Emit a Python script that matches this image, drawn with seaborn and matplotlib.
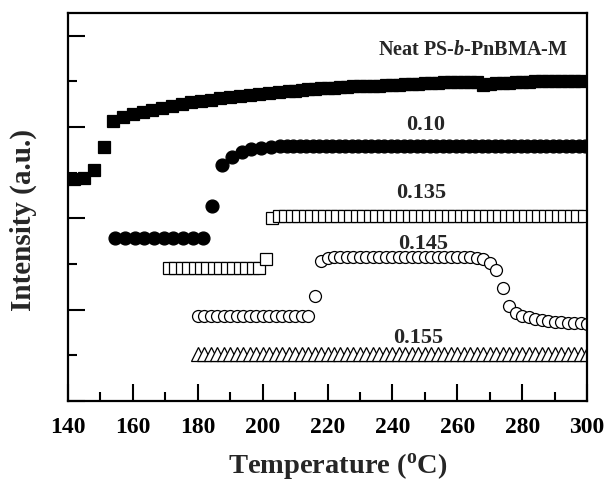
import matplotlib
matplotlib.use('Agg')
import matplotlib.pyplot as plt
from matplotlib.ticker import MultipleLocator, NullFormatter
import seaborn as sns

# --- data (temperature in C, intensity in a.u.) ---
neat_T = [142, 145, 148, 151, 154, 157, 160, 163, 166, 169, 172, 175, 178, 181,
          184, 187, 190, 193, 196, 199, 202, 205, 208,
          210, 212, 214, 216, 218, 220, 222, 224, 226, 228, 230, 232, 234, 236,
          238, 240, 242, 244, 246, 248, 250, 252, 254, 256, 258, 260, 262, 264,
          266, 268, 270, 272, 274, 276, 278, 280, 282, 284, 286, 288, 290, 292,
          294, 296, 298]
neat_I = [4.87, 4.89, 5.07, 5.57, 6.14, 6.23, 6.28, 6.34, 6.38, 6.42, 6.46, 6.50,
          6.54, 6.57, 6.60, 6.63, 6.66, 6.69, 6.71, 6.73, 6.75, 6.77, 6.79,
          6.80, 6.82, 6.83, 6.84, 6.85, 6.86, 6.86, 6.87, 6.88, 6.89, 6.89, 6.90,
          6.91, 6.91, 6.92, 6.93, 6.93, 6.94, 6.95, 6.95, 6.96, 6.96, 6.97, 6.98,
          6.98, 6.99, 6.99, 6.99, 6.99, 6.92, 6.94, 6.96, 6.97, 6.97, 6.98, 6.99,
          6.99, 7.00, 7.00, 7.00, 7.01, 7.01, 7.01, 7.02, 7.02]

c010_T = [154.5, 157.5, 160.5, 163.5, 166.5, 169.5, 172.5, 175.5, 178.5, 181.5,
          184.5, 187.5, 190.5, 193.5, 196.5, 199.5, 202.5, 205.5,
          207.5, 209.5, 211.5, 213.5, 215.5, 217.5, 219.5, 221.5, 223.5, 225.5,
          227.5, 229.5, 231.5, 233.5, 235.5, 237.5, 239.5, 241.5, 243.5, 245.5,
          247.5, 249.5, 251.5, 253.5, 255.5, 257.5, 259.5, 261.5, 263.5, 265.5,
          267.5, 269.5, 271.5, 273.5, 275.5, 277.5, 279.5, 281.5, 283.5, 285.5,
          287.5, 289.5, 291.5, 293.5, 295.5, 297.5, 299.5]
c010_I = [3.57, 3.57, 3.57, 3.57, 3.57, 3.57, 3.57, 3.57, 3.57, 3.57,
          4.27, 5.17, 5.34, 5.45, 5.52, 5.55, 5.57, 5.58,
          5.58, 5.58, 5.58, 5.58, 5.58, 5.58, 5.58, 5.58, 5.58, 5.58,
          5.58, 5.58, 5.58, 5.58, 5.58, 5.58, 5.58, 5.58, 5.58, 5.58,
          5.58, 5.58, 5.58, 5.58, 5.58, 5.58, 5.58, 5.58, 5.58, 5.58,
          5.58, 5.58, 5.58, 5.58, 5.58, 5.58, 5.58, 5.58, 5.58, 5.58,
          5.58, 5.58, 5.58, 5.58, 5.58, 5.58, 5.58]

c0135_T = [171, 173, 175, 177, 179, 181, 183, 185, 187, 189, 191, 193, 195, 197,
           199, 201, 203, 205, 207, 209, 211, 213, 215, 217, 219, 221, 223, 225,
           227, 229, 231, 233, 235, 237, 239, 241, 243, 245, 247, 249, 251, 253,
           255, 257, 259, 261, 263, 265, 267, 269, 271, 273, 275, 277, 279, 281,
           283, 285, 287, 289, 291, 293, 295, 297, 299]
c0135_I = [2.92, 2.92, 2.92, 2.92, 2.92, 2.92, 2.92, 2.92, 2.92, 2.92, 2.92, 2.92,
           2.92, 2.92, 2.92, 3.11, 4.02, 4.06, 4.06, 4.06, 4.06, 4.06, 4.06, 4.06,
           4.06, 4.06, 4.06, 4.06, 4.06, 4.06, 4.06, 4.06, 4.06, 4.06, 4.06, 4.06,
           4.06, 4.06, 4.06, 4.06, 4.06, 4.06, 4.06, 4.06, 4.06, 4.06, 4.06, 4.06,
           4.06, 4.06, 4.06, 4.06, 4.06, 4.06, 4.06, 4.06, 4.06, 4.06, 4.06, 4.06,
           4.06, 4.06, 4.06, 4.06, 4.06]

c0145_T = [180, 182, 184, 186, 188, 190, 192, 194, 196, 198, 200, 202, 204, 206,
           208, 210, 212, 214, 216, 218, 220, 222, 224, 226, 228, 230, 232, 234,
           236, 238, 240, 242, 244, 246, 248, 250, 252, 254, 256, 258, 260, 262,
           264, 266, 268, 270, 272, 274, 276, 278, 280, 282, 284, 286, 288, 290,
           292, 294, 296, 298, 300]
c0145_I = [1.87, 1.87, 1.87, 1.87, 1.87, 1.87, 1.87, 1.87, 1.87, 1.87, 1.87, 1.87,
           1.87, 1.87, 1.87, 1.87, 1.87, 1.87, 2.31, 3.06, 3.14, 3.16, 3.16, 3.16,
           3.16, 3.16, 3.16, 3.16, 3.16, 3.16, 3.16, 3.16, 3.16, 3.16, 3.16, 3.16,
           3.16, 3.16, 3.16, 3.16, 3.16, 3.16, 3.16, 3.14, 3.11, 3.03, 2.86, 2.47,
           2.09, 1.93, 1.87, 1.83, 1.80, 1.78, 1.76, 1.74, 1.73, 1.72, 1.71, 1.70,
           1.69]

c0155_T = [180, 182, 184, 186, 188, 190, 192, 194, 196, 198, 200, 202, 204, 206,
           208, 210, 212, 214, 216, 218, 220, 222, 224, 226, 228, 230, 232, 234,
           236, 238, 240, 242, 244, 246, 248, 250, 252, 254, 256, 258, 260, 262,
           264, 266, 268, 270, 272, 274, 276, 278, 280, 282, 284, 286, 288, 290,
           292, 294, 296, 298, 300]
c0155_I = [1.03, 1.03, 1.03, 1.03, 1.03, 1.03, 1.03, 1.03, 1.03, 1.03, 1.03, 1.03,
           1.03, 1.03, 1.03, 1.03, 1.03, 1.03, 1.03, 1.03, 1.03, 1.03, 1.03, 1.03,
           1.03, 1.03, 1.03, 1.03, 1.03, 1.03, 1.03, 1.03, 1.03, 1.03, 1.03, 1.03,
           1.03, 1.03, 1.03, 1.03, 1.03, 1.03, 1.03, 1.03, 1.03, 1.03, 1.03, 1.03,
           1.03, 1.03, 1.03, 1.03, 1.03, 1.03, 1.03, 1.03, 1.03, 1.03, 1.03, 1.03,
           1.03]

labels = [r'Neat PS-$\it{b}$-PnBMA-M', '0.10', '0.135', '0.145', '0.155']

# --- style ---
sns.set_theme(style='ticks')
plt.rcParams['font.family'] = ['Liberation Serif', 'DejaVu Serif']
plt.rcParams['font.weight'] = 'bold'
plt.rcParams['mathtext.fontset'] = 'custom'
plt.rcParams['mathtext.rm'] = 'Liberation Serif:bold'
plt.rcParams['mathtext.it'] = 'Liberation Serif:italic:bold'
plt.rcParams['mathtext.bf'] = 'Liberation Serif:bold'

fig = plt.figure(figsize=(6.05, 4.81), dpi=100)
ax = fig.add_axes([0.1124, 0.1642, 0.8579, 0.8067])

series = [
    (neat_T, neat_I, 's', 8.3, 'black'),
    (c010_T, c010_I, 'o', 9.3, 'black'),
    (c0135_T, c0135_I, 's', 8.3, 'white'),
    (c0145_T, c0145_I, 'o', 8.6, 'white'),
    (c0155_T, c0155_I, '^', 9.5, 'white'),
]
# markers only: the connecting line in the original is hidden under the symbols
for T, I, m, ms, fc in series:
    sns.lineplot(x=T, y=I, ax=ax, color='black', linestyle='none', marker=m,
                 markersize=ms, markerfacecolor=fc, markeredgecolor='black',
                 markeredgewidth=0.9)

# curve labels
ax.text(294, 7.61, labels[0], ha='right', va='baseline', fontsize=14.5)
ax.text(250.2, 5.95, labels[1], ha='center', va='baseline', fontsize=16)
ax.text(248.8, 4.47, labels[2], ha='center', va='baseline', fontsize=16)
ax.text(249.5, 3.35, labels[3], ha='center', va='baseline', fontsize=16)
ax.text(247.8, 1.30, labels[4], ha='center', va='baseline', fontsize=16)

ax.set_xlim(140, 300)
ax.set_ylim(0, 8.5)
ax.xaxis.set_major_locator(MultipleLocator(20))
ax.xaxis.set_minor_locator(MultipleLocator(10))
ax.yaxis.set_major_locator(MultipleLocator(2))
ax.yaxis.set_minor_locator(MultipleLocator(1))
ax.yaxis.set_major_formatter(NullFormatter())

for s in ax.spines.values():
    s.set_linewidth(1.6)
    s.set_color('black')
ax.tick_params(which='major', direction='in', length=12, width=1.5,
               labelsize=17, pad=11, colors='black')
ax.tick_params(which='minor', direction='in', length=6.5, width=1.5, colors='black')

ax.set_xlabel(r'Temperature ($^{\rm o}$C)', fontsize=20.5, fontweight='bold')
ax.set_ylabel('Intensity (a.u.)', fontsize=21, fontweight='bold')
ax.xaxis.set_label_coords(0.519, -0.125)
ax.yaxis.set_label_coords(-0.06, 0.469)

fig.savefig('out.png', dpi=100)
